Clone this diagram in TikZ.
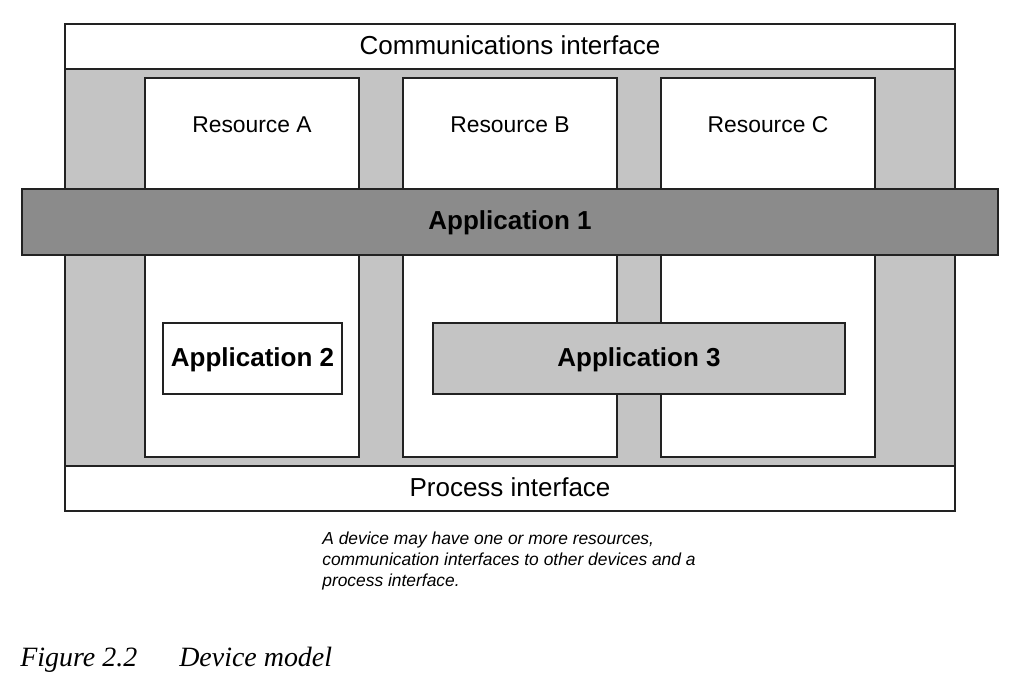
\documentclass[tikz,border=0pt]{standalone}
\usepackage{fontspec}
\setmainfont{Liberation Serif}
\setsansfont{Liberation Sans}
\usepackage{xcolor}
\usetikzlibrary{positioning}
\definecolor{devgray}{HTML}{C4C4C4}
\definecolor{appgray}{HTML}{8B8B8B}
\definecolor{edgegray}{HTML}{222222}
\tikzstyle{box}=[rectangle,draw=edgegray,line width=0.8pt,inner sep=0pt,text height=0.86em,text depth=0pt]

\begin{document}
\begin{tikzpicture}[x=0.2mm,y=-0.2mm]
					\tikzstyle{iface}=[box,fill=white,minimum width=178mm,minimum height=9mm,font=\sffamily\fontsize{14.8}{16}\selectfont]
					\tikzstyle{resbox}=[box,fill=white,minimum width=42.8mm,minimum height=75.8mm]
					\tikzstyle{restext}=[inner sep=0pt,text height=0.72em,text depth=0pt,font=\sffamily\fontsize{13}{15}\selectfont]
					\tikzstyle{appbox}=[box,minimum height=14.2mm,font=\sffamily\bfseries\fontsize{14.8}{16}\selectfont]
					\useasboundingbox (0,0) rectangle (1019,679);
					% device with its two interfaces
					\node [box,fill=devgray,minimum width=178mm,minimum height=97.4mm] (device) at (510,267.5) {};
					\node [iface] (comms) at (510,46.5) {Communications interface};
					\node [iface] (proc) at (510,488.5) {Process interface};
					% resources
					\node [resbox] (resA) at (252,267.5) {};
					\node [resbox] (resB) at (510,267.5) {};
					\node [resbox] (resC) at (768,267.5) {};
					\node [restext,below=8.5mm of resA.north] (labA) {Resource A};
					\node [restext,below=8.5mm of resB.north] (labB) {Resource B};
					\node [restext,below=8.5mm of resC.north] (labC) {Resource C};
					% applications
					\node [appbox,fill=appgray,minimum width=195.2mm,minimum height=13.2mm] (app1) at (510,222) {Application 1};
					\node [appbox,fill=white,minimum width=35.8mm] (app2) at (252.5,358.5) {Application 2};
					\node [appbox,fill=devgray,minimum width=82.4mm] (app3) at (639,358.5) {Application 3};
					% notes
					\node [anchor=north west,align=left,inner sep=0pt,font=\sffamily\itshape\fontsize{9.9}{11.9}\selectfont] (note) at (322,532) {A device may have one or more resources,\\communication interfaces to other devices and a\\process interface.};
					\node [anchor=base west,inner sep=0pt,font=\itshape\fontsize{15.9}{18}\selectfont] (caption) at (20,666) {Figure 2.2\hspace{8.4mm}Device model};
\end{tikzpicture}
\end{document}
